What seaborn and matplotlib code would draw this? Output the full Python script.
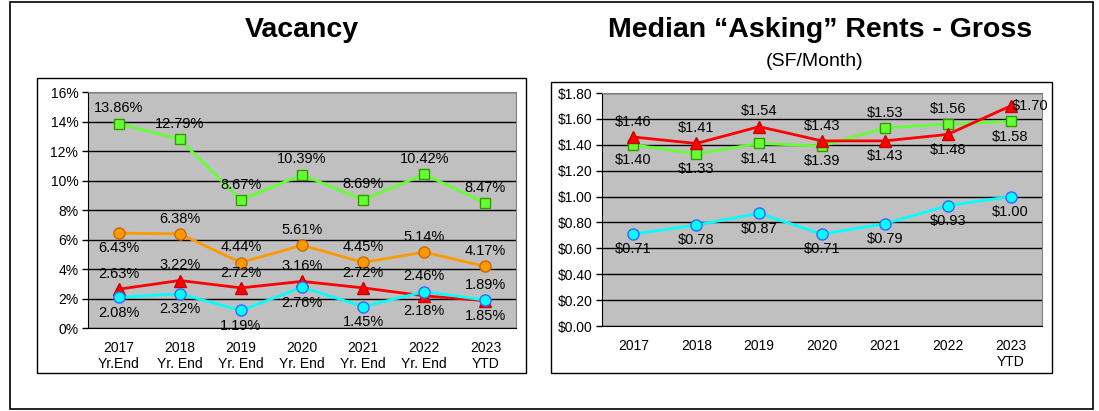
import matplotlib
matplotlib.use("Agg")
import matplotlib.pyplot as plt
from matplotlib.patches import Rectangle
import seaborn as sns

# data
vac_labels = ["2017\nYr.End", "2018\nYr. End", "2019\nYr. End", "2020\nYr. End",
              "2021\nYr. End", "2022\nYr. End", "2023\nYTD"]
rent_labels = ["2017", "2018", "2019", "2020", "2021", "2022", "2023\nYTD"]

vac_green = [13.86, 12.79, 8.67, 10.39, 8.69, 10.42, 8.47]
vac_orange = [6.43, 6.38, 4.44, 5.61, 4.45, 5.14, 4.17]
vac_red = [2.63, 3.22, 2.72, 3.16, 2.72, 2.18, 1.85]
vac_cyan = [2.08, 2.32, 1.19, 2.76, 1.45, 2.46, 1.89]

rent_red = [1.46, 1.41, 1.54, 1.43, 1.43, 1.48, 1.70]
rent_green = [1.40, 1.33, 1.41, 1.39, 1.53, 1.56, 1.58]
rent_cyan = [0.71, 0.78, 0.87, 0.71, 0.79, 0.93, 1.00]

sns.set_style("white")
plt.rcParams['font.family'] = ['Liberation Sans', 'DejaVu Sans']
plt.rcParams['text.color'] = 'black'
plt.rcParams['xtick.color'] = 'black'
plt.rcParams['ytick.color'] = 'black'

W, H = 1099, 411
fig = plt.figure(figsize=(W / 100, H / 100), dpi=100)


def box(x0, y0, x1, y1, lw=1.0):
    fig.patches.append(Rectangle((x0 / W, 1 - y1 / H), (x1 - x0) / W, (y1 - y0) / H,
                                 transform=fig.transFigure, fill=False,
                                 edgecolor="black", linewidth=lw))


def px_axes(x0, y0, x1, y1):
    return fig.add_axes([x0 / W, 1 - y1 / H, (x1 - x0) / W, (y1 - y0) / H])


box(10, 2, 1093, 409, 1.2)
box(37, 78, 526, 373)
box(551, 82, 1052, 373)

fig.text(302 / W, 1 - 30 / H, "Vacancy", ha="center", va="center",
         fontsize=20.5, fontweight="bold")
fig.text(820 / W, 1 - 30 / H, "Median \u201cAsking\u201d Rents - Gross", ha="center",
         va="center", fontsize=20.5, fontweight="bold")
fig.text(815 / W, 1 - 62 / H, "(SF/Month)", ha="center", va="center", fontsize=14)

styles = {
    "green": dict(color="#66FF33", marker="s", mec="#339900", ms=7),
    "orange": dict(color="#FF9900", marker="o", mec="#CC6600", ms=8),
    "red": dict(color="#FF0000", marker="^", mec="#CC0000", ms=8),
    "cyan": dict(color="#00FFFF", marker="o", mec="#3366FF", ms=8),
}


def draw(ax, vals, key, fmt, where):
    st = styles[key]
    x = list(range(len(vals)))
    sns.lineplot(x=x, y=vals, ax=ax, color=st["color"], linewidth=2,
                 marker=st["marker"], markersize=st["ms"],
                 markerfacecolor=st["color"], markeredgecolor=st["mec"],
                 markeredgewidth=1)
    for xi, v, w in zip(x, vals, where):
        if w == "a":
            off, ha, va = (0, 6), "center", "bottom"
        elif w == "b":
            off, ha, va = (0, -6), "center", "top"
        else:
            off, ha, va = (1, 0), "left", "center"
        ax.annotate(fmt.format(v), (xi, v), xytext=off, textcoords="offset points",
                    ha=ha, va=va, fontsize=10.5, color="black")


def style_axes(ax, ymax, step, labels, tickfmt):
    ax.set_facecolor("#C0C0C0")
    ax.set_xlim(-0.5, 6.5)
    ax.set_ylim(0, ymax)
    yt = [i * step for i in range(int(round(ymax / step)) + 1)]
    ax.set_yticks(yt)
    ax.set_yticklabels([tickfmt(v) for v in yt])
    ax.set_xticks(range(7))
    ax.set_xticklabels(labels)
    ax.yaxis.grid(True, color="black", linewidth=1)
    ax.set_axisbelow(True)
    for s in ["top", "right"]:
        ax.spines[s].set_color("#808080")
    for s in ["left", "bottom"]:
        ax.spines[s].set_color("black")
    ax.tick_params(axis="y", left=True, length=4, width=1, labelsize=10, pad=3)
    ax.tick_params(axis="x", bottom=False, labelsize=10, pad=6)


ax1 = px_axes(88, 92, 516, 328)
style_axes(ax1, 16, 2, vac_labels, lambda v: f"{v:.0f}%")
draw(ax1, vac_green, "green", "{:.2f}%", "aaaaaaa")
draw(ax1, vac_orange, "orange", "{:.2f}%", "baaaaaa")
draw(ax1, vac_red, "red", "{:.2f}%", "aaaaabb")
draw(ax1, vac_cyan, "cyan", "{:.2f}%", "bbbbbaa")

ax2 = px_axes(602, 93, 1042, 326)
style_axes(ax2, 1.8, 0.2, rent_labels, lambda v: f"${v:.2f}")
draw(ax2, rent_green, "green", "${:.2f}", "bbbbaab")
draw(ax2, rent_red, "red", "${:.2f}", "aaaabbr")
draw(ax2, rent_cyan, "cyan", "${:.2f}", "bbbbbbb")

fig.savefig("out.png", dpi=100)
